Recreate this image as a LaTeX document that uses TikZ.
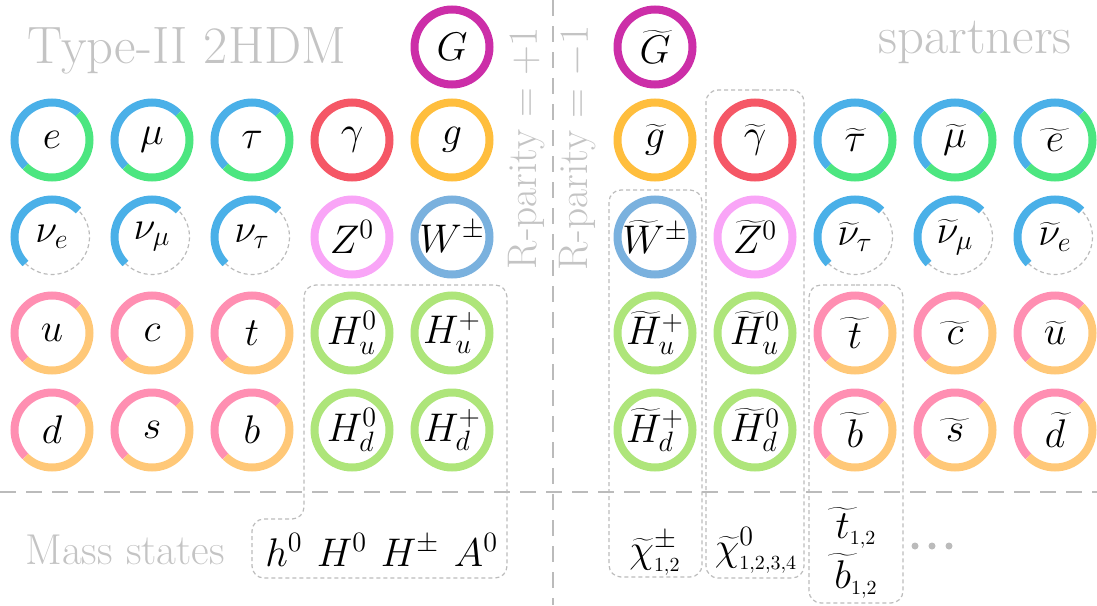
\RequirePackage{fix-cm}
\documentclass[tikz,border=0pt]{standalone}
\usetikzlibrary{calc}
\definecolor{lblue}{HTML}{4AB0E8}
\definecolor{lgreen}{HTML}{4CE680}
\definecolor{phred}{HTML}{F55766}
\definecolor{gluon}{HTML}{FFBE3D}
\definecolor{zpink}{HTML}{F9A5F7}
\definecolor{wblue}{HTML}{7AB1DE}
\definecolor{hgreen}{HTML}{AEE57A}
\definecolor{qpink}{HTML}{FF8FB2}
\definecolor{qorange}{HTML}{FFC878}
\definecolor{gmag}{HTML}{CC2EA8}
\definecolor{txtgray}{HTML}{C4C4C4}
\definecolor{linegray}{HTML}{BBBBBB}
\tikzset{
  pnode/.style={circle,minimum size=37.5pt,inner sep=0pt,font=\fontsize{20}{24}\selectfont},
  ring/.style={line width=4pt,line cap=butt},
  nudash/.style={draw=linegray,line width=0.6pt,dash pattern=on 2pt off 1.5pt},
  boxline/.style={draw=linegray,line width=0.6pt,dash pattern=on 2pt off 1.5pt,rounded corners=6pt},
  divline/.style={draw=linegray,line width=1pt,dash pattern=on 8pt off 5pt},
  bigtxt/.style={text=txtgray,font=\fontsize{26.3}{30}\selectfont,inner sep=0pt},
  midtxt/.style={text=txtgray,font=\fontsize{21.6}{25}\selectfont,inner sep=0pt},
  rottxt/.style={text=txtgray,font=\fontsize{20.7}{25}\selectfont,inner sep=0pt},
  masst/.style={font=\fontsize{20}{24}\selectfont,inner sep=0pt,anchor=base},
}
\newcommand{\wt}[1]{\mathord{\setbox0\hbox{$#1$}\hbox to\wd0{\hss\ooalign{$\widetilde{\vphantom{#1}\hphantom{G}}$\cr\hidewidth$#1$\hidewidth\cr}\hss}}}
\newcommand{\pfull}[4]{%
  \node[pnode] (#1) at (#2) {$#3$};
  \draw[ring,#4] (#1.center) circle[radius=37.5];}
\newcommand{\ptwo}[5]{%
  \node[pnode] (#1) at (#2) {$#3$};
  \draw[ring,#4] (#1.center) ++(45:37.5) arc[start angle=45,end angle=225,radius=37.5];
  \draw[ring,#5] (#1.center) ++(225:37.5) arc[start angle=225,end angle=405,radius=37.5];}
\newcommand{\pnu}[3]{%
  \node[pnode] (#1) at (#2) {$#3$};
  \draw[nudash] (#1.center) ++(225:37.5) arc[start angle=225,end angle=405,radius=37.5];
  \draw[ring,lblue] (#1.center) ++(45:37.5) arc[start angle=45,end angle=225,radius=37.5];}
\begin{document}
\begin{tikzpicture}[x=0.5pt,y=0.5pt]
\useasboundingbox (0,0) rectangle (1097,-605);
% divider lines
\coordinate (vtop) at (553,0);
\coordinate (vbot) at (553,-605);
\coordinate (hl) at (0,-492);
\coordinate (hr) at (1097,-492);
\draw[divline] (vtop) -- (vbot);
\draw[divline] (hl) -- (hr);
% titles
\node[bigtxt,anchor=base west] (title) at (27,-63) {Type-II 2HDM};
\node[bigtxt,anchor=base east] (spart) at (1072,-54) {spartners};
\node[midtxt,anchor=base west] (mass) at (25,-564) {Mass states};
\node[rottxt,rotate=90] (rp) at (527,-148) {R-parity $=+1$};
\node[rottxt,rotate=90] (rm) at (578,-148) {R-parity $=-1$};
% SM side
\pfull{G}{452,-47}{G}{gmag}
\ptwo{e}{52,-140}{e}{lblue}{lgreen}
\ptwo{mu}{152,-140}{\mu}{lblue}{lgreen}
\ptwo{tau}{252,-140}{\tau}{lblue}{lgreen}
\pfull{gam}{352,-140}{\gamma}{phred}
\pfull{g}{452,-140}{g}{gluon}
\pnu{ne}{52,-237}{\nu_e}
\pnu{nmu}{152,-237}{\nu_\mu}
\pnu{ntau}{252,-237}{\nu_\tau}
\pfull{Z}{352,-237}{Z^0}{zpink}
\pfull{W}{452,-237}{W^\pm}{wblue}
\ptwo{u}{52,-333}{u}{qpink}{qorange}
\ptwo{c}{152,-333}{c}{qpink}{qorange}
\ptwo{t}{252,-333}{t}{qpink}{qorange}
\pfull{Hu0}{352,-333}{H_u^0}{hgreen}
\pfull{Hup}{452,-333}{H_u^+}{hgreen}
\ptwo{d}{52,-430}{d}{qpink}{qorange}
\ptwo{s}{152,-430}{s}{qpink}{qorange}
\ptwo{b}{252,-430}{b}{qpink}{qorange}
\pfull{Hd0}{352,-430}{H_d^0}{hgreen}
\pfull{Hdp}{452,-430}{H_d^+}{hgreen}
% SUSY side
\pfull{sG}{655,-47}{\widetilde{G}}{gmag}
\pfull{sg}{655,-140}{\widetilde{g}}{gluon}
\pfull{sgam}{755,-140}{\widetilde{\gamma}}{phred}
\ptwo{stau}{855,-140}{\widetilde{\tau}}{lblue}{lgreen}
\ptwo{smu}{955,-140}{\widetilde{\mu}}{lblue}{lgreen}
\ptwo{se}{1055,-140}{\wt{e}}{lblue}{lgreen}
\pfull{sW}{655,-237}{\widetilde{W}^\pm}{wblue}
\pfull{sZ}{755,-237}{\widetilde{Z}^0}{zpink}
\pnu{sntau}{855,-237}{\widetilde{\nu}_\tau}
\pnu{snmu}{955,-237}{\widetilde{\nu}_\mu}
\pnu{sne}{1055,-237}{\widetilde{\nu}_e}
\pfull{sHup}{655,-333}{\widetilde{H}_u^+}{hgreen}
\pfull{sHu0}{755,-333}{\widetilde{H}_u^0}{hgreen}
\ptwo{st}{855,-333}{\wt{t}}{qpink}{qorange}
\ptwo{sc}{955,-333}{\wt{c}}{qpink}{qorange}
\ptwo{su}{1055,-333}{\widetilde{u}}{qpink}{qorange}
\pfull{sHdp}{655,-430}{\widetilde{H}_d^+}{hgreen}
\pfull{sHd0}{755,-430}{\widetilde{H}_d^0}{hgreen}
\ptwo{sb}{855,-430}{\wt{b}}{qpink}{qorange}
\ptwo{ss}{955,-430}{\wt{s}}{qpink}{qorange}
\ptwo{sd}{1055,-430}{\widetilde{d}}{qpink}{qorange}
% mass states
\node[masst] (h0) at (284,-566) {$h^0$};
\node[masst] (H0) at (342,-566) {$H^0$};
\node[masst] (Hpm) at (410,-566) {$H^\pm$};
\node[masst] (A0) at (476,-566) {$A^0$};
\node[masst] (chipm) at (655,-562) {$\widetilde{\chi}^\pm_{\scriptscriptstyle 1,2}$};
\node[masst] (chi0) at (756,-560) {$\widetilde{\chi}^0_{\scriptscriptstyle 1,2,3,4}$};
\node[masst] (t12) at (856,-538) {$\wt{t}_{\scriptscriptstyle 1,2}$};
\node[masst] (b12) at (856,-588) {$\wt{b}_{\scriptscriptstyle 1,2}$};
\foreach \xx in {915,932,949} \fill[linegray] (\xx,-546) circle[radius=3.5];
% boxes
\draw[boxline] (405,-285) -- (507,-285) -- (507,-578) -- (252,-578) -- (252,-519) -- (304,-519) -- (304,-285) -- (405,-285);
\draw[boxline] (655,-190) -- (702,-190) -- (702,-577) -- (609,-577) -- (609,-190) -- (655,-190);
\draw[boxline] (755,-90) -- (804,-90) -- (804,-578) -- (706,-578) -- (706,-90) -- (755,-90);
\draw[boxline] (856,-285) -- (903,-285) -- (903,-603) -- (809,-603) -- (809,-285) -- (856,-285);
\end{tikzpicture}
\end{document}
